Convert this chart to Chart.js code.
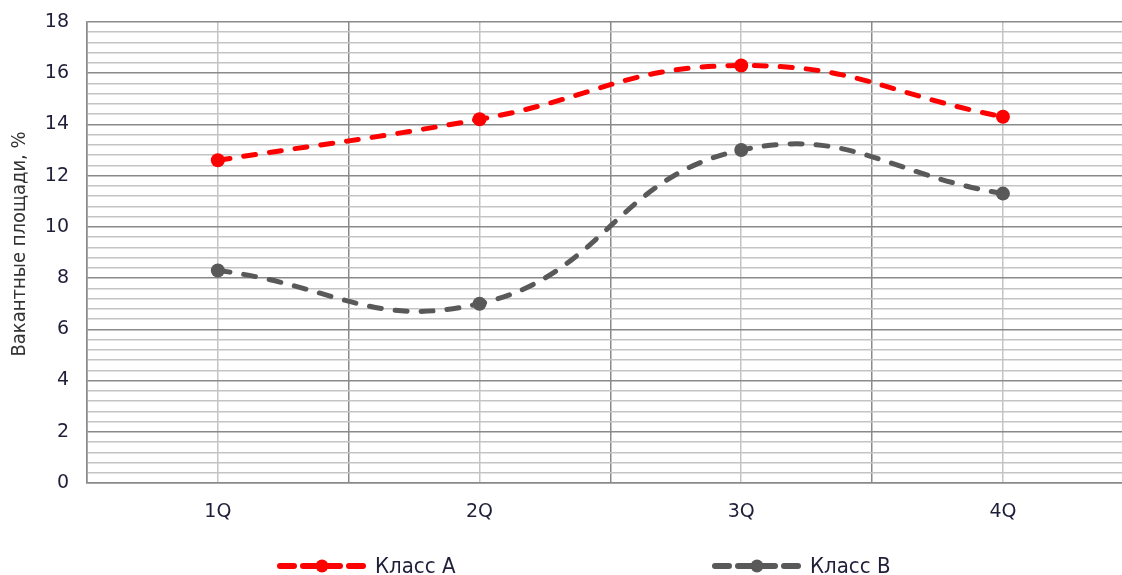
<!DOCTYPE html>
<html lang="ru">
<head>
  <meta charset="UTF-8">
  <title>Вакантные площади</title>
  <script src="https://cdn.jsdelivr.net/npm/chart.js"></script>
  <style>
    body {
      margin: 0;
      padding: 0;
      background: #fff;
    }
    #wrap {
      width: 1122px;
      height: 575px;
    }
  </style>
</head>
<body>

<div id="wrap">
  <canvas id="chart" width="1122" height="575"></canvas>
</div>

<script>
  const quarters = ["1Q", "2Q", "3Q", "4Q"];
  const seriesNames = ["Класс А", "Класс В"];
  const classA = [12.6, 14.2, 16.3, 14.3];
  const classB = [8.3, 7.0, 13.0, 11.3];
  const yTitle = "Вакантные площади, %";

  const toPoints = vals => vals.map((v, i) => ({ x: i, y: v }));

  // y: minor lines every 0.4, labels every 2
  function yTicks() {
    const t = [];
    for (let i = 0; i <= 45; i++) t.push({ value: Math.round(i * 0.4 * 10) / 10 });
    return t;
  }
  const isMajorY = v => Math.abs(v / 2 - Math.round(v / 2)) < 1e-6;

  // x: lines at categories and between them
  function xTicks() {
    const t = [];
    for (let i = -1; i <= 6; i++) t.push({ value: i / 2 });
    return t;
  }
  const isCat = v => Math.abs(v - Math.round(v)) < 1e-6;

  // legend + axis title drawn by hand
  const extrasPlugin = {
    id: "extras",
    afterDraw(chart) {
      const ctx = chart.ctx;
      const items = [
        { x: 277, ds: chart.data.datasets[0] },
        { x: 712, ds: chart.data.datasets[1] }
      ];
      const y = 566;
      items.forEach(it => {
        ctx.save();
        ctx.strokeStyle = it.ds.borderColor;
        ctx.lineWidth = 6;
        ctx.lineCap = "round";
        ctx.setLineDash([14, 9]);
        ctx.beginPath();
        ctx.moveTo(it.x + 3, y);
        ctx.lineTo(it.x + 88, y);
        ctx.stroke();
        ctx.setLineDash([]);
        ctx.fillStyle = it.ds.borderColor;
        ctx.beginPath();
        ctx.arc(it.x + 45, y, 6.5, 0, Math.PI * 2);
        ctx.fill();
        ctx.fillStyle = "#1f1f3a";
        ctx.font = "22px 'DejaVu Sans Condensed', 'DejaVu Sans'";
        ctx.textBaseline = "middle";
        ctx.textAlign = "left";
        ctx.fillText(it.ds.label, it.x + 98, y + 1);
        ctx.restore();
      });

      ctx.save();
      ctx.translate(20, 244);
      ctx.rotate(-Math.PI / 2);
      ctx.fillStyle = "#333";
      ctx.font = "20px 'DejaVu Sans Condensed', 'DejaVu Sans'";
      ctx.textAlign = "center";
      ctx.textBaseline = "middle";
      ctx.fillText(yTitle, 0, 0);
      ctx.restore();
    }
  };

  new Chart(document.getElementById("chart"), {
    type: "line",
    data: {
      datasets: [
        {
          label: seriesNames[0],
          data: toPoints(classA),
          borderColor: "#ff0000",
          backgroundColor: "#ff0000",
          borderWidth: 5,
          borderDash: [12, 14],
          borderCapStyle: "round",
          tension: 0.45,
          pointRadius: 7,
          pointBorderWidth: 0,
          fill: false
        },
        {
          label: seriesNames[1],
          data: toPoints(classB),
          borderColor: "#595959",
          backgroundColor: "#595959",
          borderWidth: 5,
          borderDash: [12, 14],
          borderCapStyle: "round",
          tension: 0.45,
          pointRadius: 7,
          pointBorderWidth: 0,
          fill: false
        }
      ]
    },
    options: {
      responsive: false,
      animation: false,
      layout: { autoPadding: false, padding: { top: 22, right: 0, bottom: 0, left: 0 } },
      plugins: {
        legend: { display: false },
        tooltip: { enabled: false }
      },
      scales: {
        x: {
          type: "linear",
          min: -0.5,
          max: 3.455,
          afterBuildTicks: axis => { axis.ticks = xTicks(); },
          afterFit: axis => {
            axis.height = 92;
            axis.paddingLeft = 0;
            axis.paddingRight = 0;
          },
          border: { display: true, color: "#8a8a8a", width: 1.5 },
          grid: {
            drawTicks: false,
            color: c => isCat(c.tick.value) ? "#c4c4c4" : "#8a8a8a",
            lineWidth: 1.5
          },
          ticks: {
            autoSkip: false,
            maxRotation: 0,
            padding: 18,
            color: "#1f1f3a",
            font: { family: "DejaVu Sans", size: 19 },
            callback: v => isCat(v) ? quarters[Math.round(v)] : ""
          }
        },
        y: {
          min: 0,
          max: 18,
          afterBuildTicks: axis => { axis.ticks = yTicks(); },
          afterFit: axis => {
            axis.width = 87;
            axis.paddingTop = 0;
            axis.paddingBottom = 0;
          },
          border: { display: true, color: "#8a8a8a", width: 1.5 },
          grid: {
            drawTicks: false,
            color: c => isMajorY(c.tick.value) ? "#8a8a8a" : "#c4c4c4",
            lineWidth: 1.5
          },
          ticks: {
            autoSkip: false,
            padding: 18,
            color: "#1f1f3a",
            font: { family: "DejaVu Sans", size: 19 },
            callback: v => isMajorY(v) ? String(Math.round(v)) : ""
          }
        }
      }
    },
    plugins: [extrasPlugin]
  });
</script>

</body>
</html>
